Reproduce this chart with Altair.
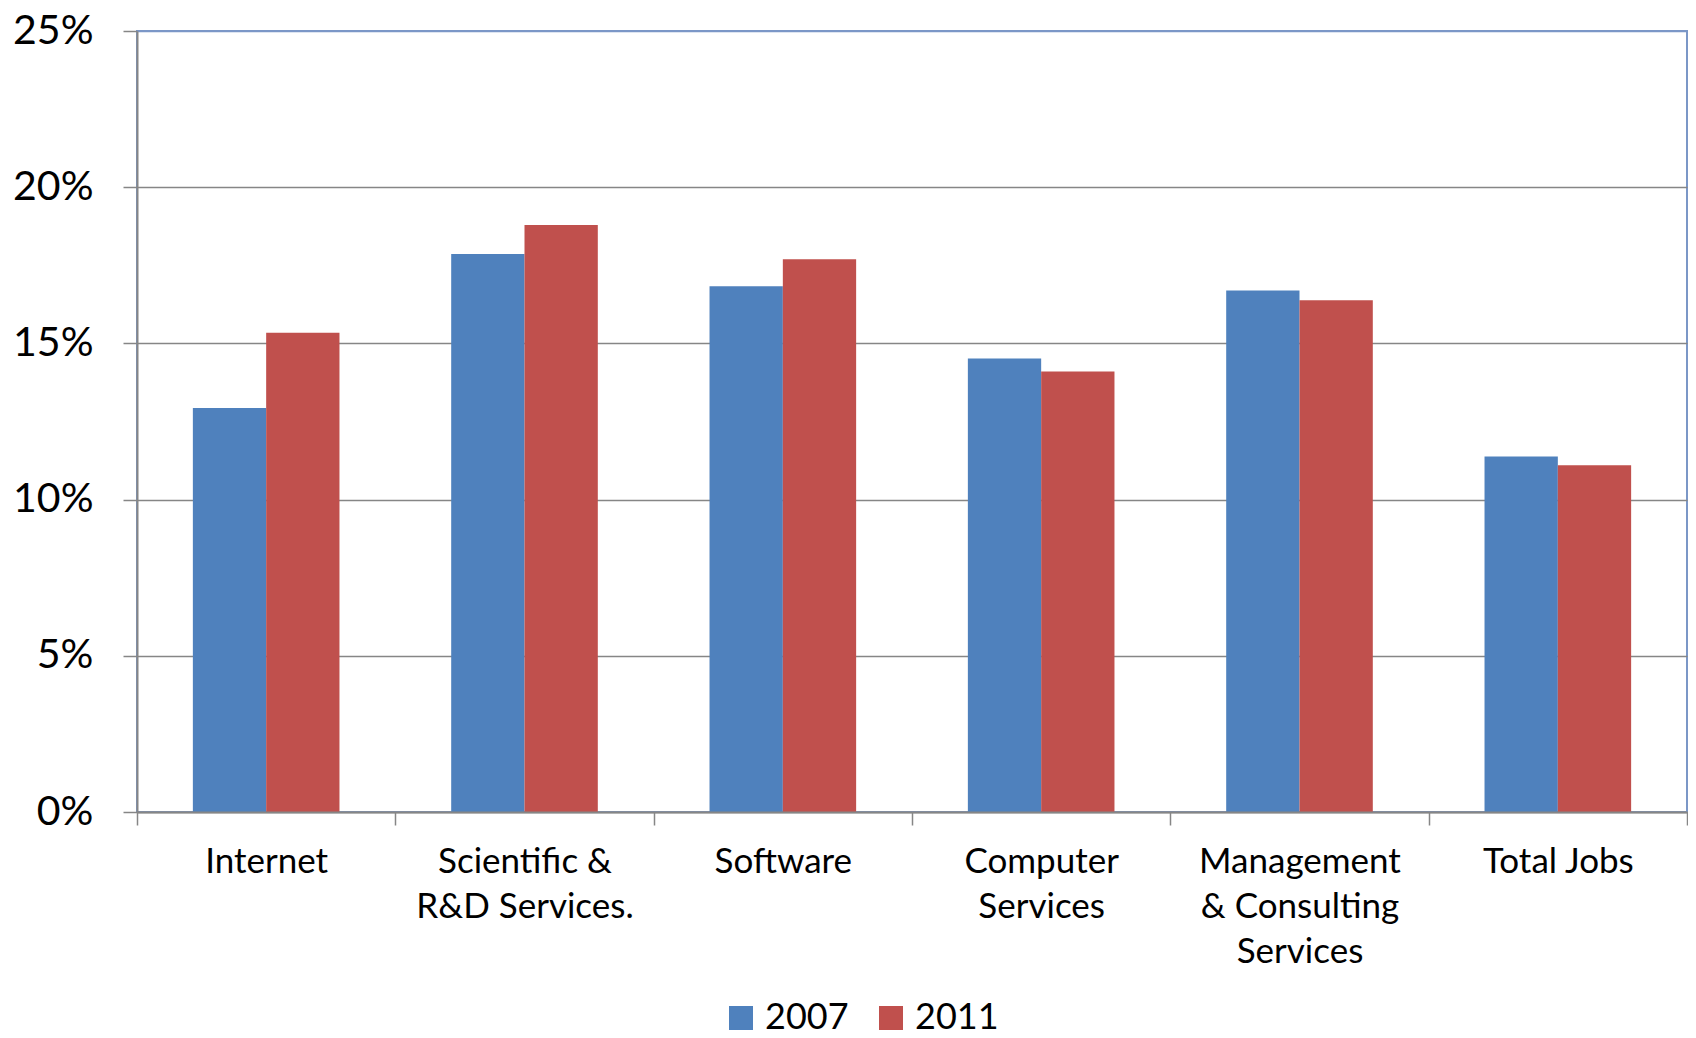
import altair as alt
import pandas as pd

categories = ["Internet", "Scientific &|R&D Services.", "Software", "Computer|Services",
              "Management|& Consulting|Services", "Total Jobs"]
years = ["2007", "2011"]
values_2007 = [12.93, 17.86, 16.83, 14.52, 16.69, 11.38]
values_2011 = [15.34, 18.79, 17.69, 14.10, 16.38, 11.10]
y_ticks = [0, 5, 10, 15, 20, 25]
colors = ["#4F81BD", "#C0504D"]

rows = []
for c, a, b in zip(categories, values_2007, values_2011):
    rows.append({"category": c, "year": years[0], "value": a / 100})
    rows.append({"category": c, "year": years[1], "value": b / 100})
df = pd.DataFrame(rows)

FONT = "Lato"
GREY = "#868686"
BORDER = "#7B97C7"
W, H = 1550, 781

bars = alt.Chart(df).mark_bar().encode(
    x=alt.X("category:N", sort=categories, title=None,
            scale=alt.Scale(paddingInner=0, paddingOuter=0),
            axis=alt.Axis(labelExpr="split(datum.label, '|')", labelAngle=0,
                          tickBand="extent", ticks=True, tickSize=13, tickColor=GREY,
                          tickWidth=1.5, domainColor=GREY, domainWidth=2,
                          labelFont=FONT, labelFontSize=35, labelLineHeight=45,
                          labelPadding=19, labelColor="black", labelBaseline="top",
                          labelLimit=600, grid=False, zindex=1)),
    xOffset=alt.XOffset("year:N", sort=years,
                        scale=alt.Scale(paddingInner=0, paddingOuter=0.762)),
    y=alt.Y("value:Q", title=None,
            scale=alt.Scale(domain=[0, 0.25], nice=False),
            axis=alt.Axis(values=[v / 100 for v in y_ticks], format=".0%",
                          tickSize=14, tickColor=GREY, tickWidth=1.5,
                          domainColor=GREY, domainWidth=2,
                          labelFont=FONT, labelFontSize=41, labelPadding=30,
                          labelColor="black",
                          gridColor={"condition": {"test": "datum.value >= 0.25", "value": BORDER},
                                     "value": GREY},
                          gridWidth=1.5, zindex=0)),
    color=alt.Color("year:N", sort=years,
                    scale=alt.Scale(domain=years, range=colors),
                    legend=alt.Legend(orient="none", legendX=586, legendY=969,
                                      direction="horizontal", title=None,
                                      symbolType="square", symbolSize=576,
                                      symbolStrokeWidth=0, labelFont=FONT,
                                      labelFontSize=36, labelOffset=6,
                                      columnPadding=24, padding=0,
                                      labelColor="black")),
).properties(
    width=W, height=H,
    padding={"left": 129, "top": 23, "right": 1, "bottom": 226},
    autosize=alt.AutoSizeParams(type="none"),
).configure_view(stroke=BORDER, strokeWidth=2)

chart = bars
chart.save("out.html", embed_options={"renderer": "svg", "actions": False})
